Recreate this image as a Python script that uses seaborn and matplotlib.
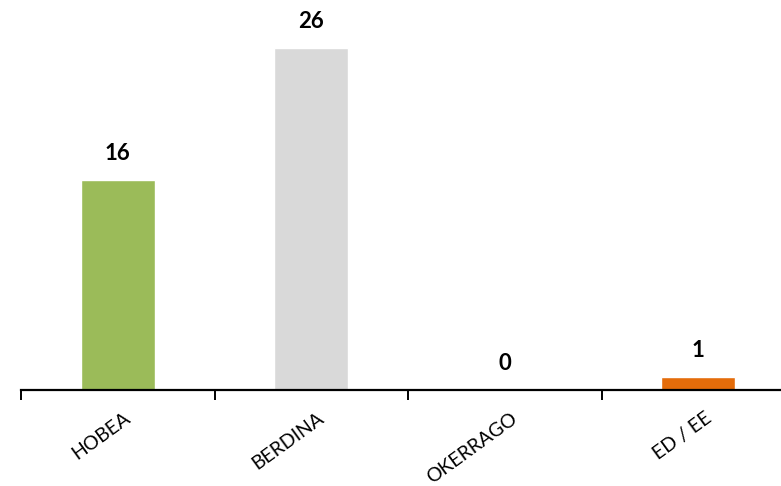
import matplotlib
matplotlib.use("Agg")
import matplotlib.pyplot as plt
import seaborn as sns
import pandas as pd
from matplotlib.ticker import FixedLocator

categories = ["HOBEA", "BERDINA", "OKERRAGO", "ED / EE"]
values = [16, 26, 0, 1]
colors = ["#9BBB59", "#D9D9D9", "#FFFFFF", "#E46C0A"]

sns.set_theme(style="white")
plt.rcParams["font.family"] = ["Lato", "DejaVu Sans"]

df = pd.DataFrame({"cat": categories, "val": values})

fig = plt.figure(figsize=(7.81, 4.86), dpi=100)
ax = fig.add_axes([21 / 781, (486 - 390) / 486, (795 - 21) / 781, 390 / 486])

sns.barplot(data=df, x="cat", y="val", hue="cat", palette=colors, legend=False,
            width=0.38, ax=ax, saturation=1)

ax.set_xlim(-0.5, 3.5)
ax.set_ylim(0, 29.66)
for s in ["top", "right", "left"]:
    ax.spines[s].set_visible(False)
ax.spines["bottom"].set_color("black")
ax.spines["bottom"].set_linewidth(1.6)
ax.set_yticks([])
ax.set_xlabel("")
ax.set_ylabel("")

# ticks at category boundaries
ax.xaxis.set_major_locator(FixedLocator(range(len(categories))))
ax.xaxis.set_minor_locator(FixedLocator([i - 0.5 for i in range(len(categories) + 1)]))
ax.tick_params(axis="x", which="major", length=0, pad=14)
ax.tick_params(axis="x", which="minor", length=7, width=1.4, color="black", direction="out", bottom=True)
ax.set_xticks(range(len(categories)))
ax.set_xticklabels(categories, rotation=36, ha="right", va="top",
                   rotation_mode="anchor", fontsize=14, color="black")
for lab in ax.get_xticklabels():
    lab.set_transform(lab.get_transform() + matplotlib.transforms.ScaledTranslation(6 / 100, 0, fig.dpi_scale_trans))

for i, v in enumerate(values):
    ax.annotate(str(v), (i, v), xytext=(0, 19), textcoords="offset points",
                ha="center", va="center", fontsize=16, fontweight="bold", color="black")

fig.savefig("out.png", dpi=100)
